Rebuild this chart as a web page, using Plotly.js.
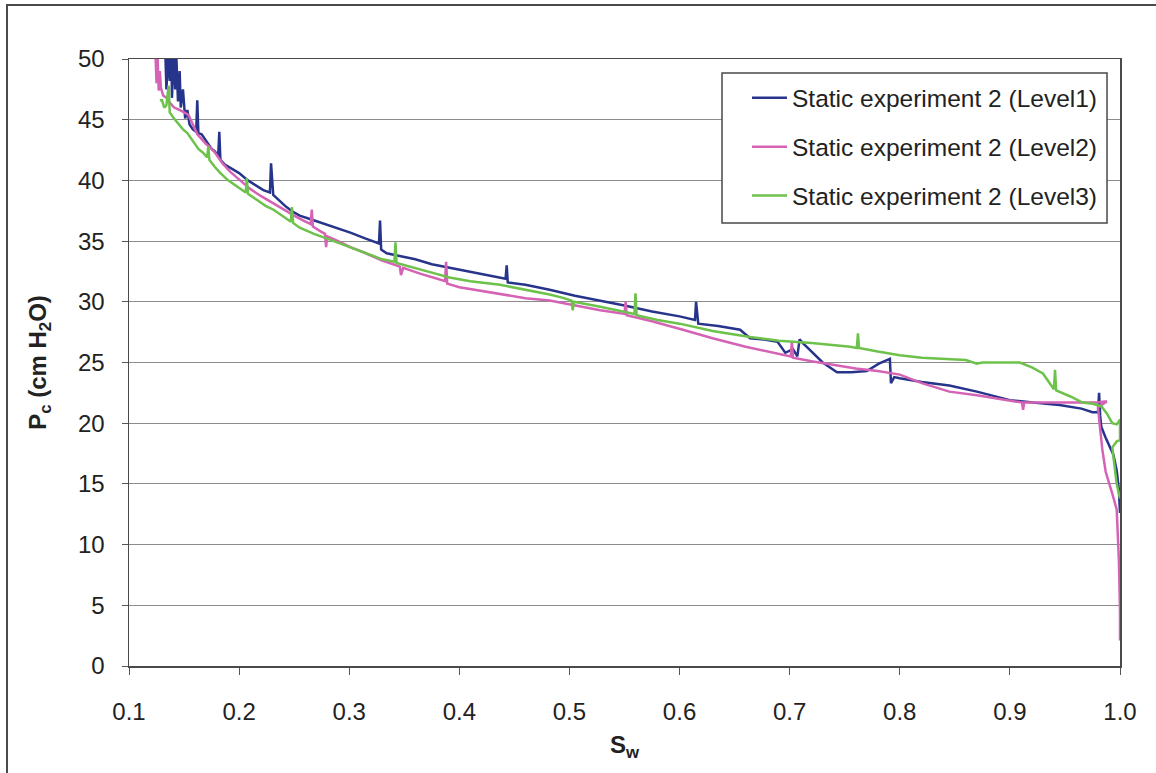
<!DOCTYPE html>
<html>
<head>
<meta charset="utf-8">
<script src="https://cdn.plot.ly/plotly-3.0.1.min.js"></script>
<style>
  html, body { margin: 0; padding: 0; background: #ffffff; }
  #chart { width: 1156px; height: 773px; }
</style>
</head>
<body>
<div id="chart"></div>
<script>
// Capillary pressure vs. water saturation, static experiment 2, three measurement levels

const seriesNames = [
  "Static experiment 2 (Level1)",
  "Static experiment 2 (Level2)",
  "Static experiment 2 (Level3)"
];

// Level 1
const swLevel1 = [
  0.133, 0.134, 0.1355, 0.137, 0.1385, 0.139, 0.1405, 0.142, 0.143, 0.1445,
  0.146, 0.147, 0.149, 0.151, 0.153, 0.155, 0.158, 0.161, 0.162, 0.163,
  0.166, 0.169, 0.172, 0.175, 0.178, 0.181, 0.182, 0.183, 0.187, 0.193,
  0.200, 0.208, 0.215, 0.222, 0.228, 0.229, 0.231, 0.237, 0.243, 0.249,
  0.255, 0.265, 0.278, 0.290, 0.301, 0.315, 0.327, 0.328, 0.329, 0.334,
  0.345, 0.360, 0.375, 0.391, 0.410, 0.425, 0.442, 0.443, 0.444, 0.460,
  0.482, 0.505, 0.528, 0.550, 0.575, 0.600, 0.614, 0.615, 0.617, 0.635,
  0.655, 0.664, 0.677, 0.689, 0.696, 0.703, 0.707, 0.709, 0.712, 0.720,
  0.730, 0.743, 0.756, 0.770, 0.781, 0.791, 0.792, 0.795, 0.800, 0.820,
  0.845, 0.870, 0.900, 0.921, 0.945, 0.965, 0.975, 0.980, 0.981, 0.982,
  0.983, 0.987, 0.991, 0.994, 0.997, 0.999, 1.000
];
const pcLevel1 = [
  50.5, 47.5, 50.5, 48.2, 50.5, 46.8, 50.5, 47.5, 50.2, 46.5,
  49.0, 46.0, 47.5, 45.1, 45.8, 44.6, 44.2, 44.0, 46.6, 43.9,
  43.8, 43.4, 43.1, 42.6, 42.4, 42.0, 44.0, 41.7, 41.3, 41.0,
  40.6, 40.0, 39.6, 39.2, 39.0, 41.4, 38.8, 38.3, 37.8, 37.4,
  37.1, 36.8, 36.4, 36.0, 35.7, 35.2, 34.8, 36.7, 34.3, 34.0,
  33.8, 33.5, 33.1, 32.8, 32.5, 32.2, 31.9, 33.0, 31.6, 31.4,
  31.0, 30.5, 30.1, 29.7, 29.2, 28.8, 28.5, 30.0, 28.2, 28.0,
  27.7, 27.0, 26.9, 26.7, 25.8, 26.1, 25.5, 26.9, 26.6, 25.9,
  25.0, 24.2, 24.2, 24.3, 24.9, 25.3, 23.3, 23.8, 23.7, 23.4,
  23.1, 22.6, 21.9, 21.7, 21.5, 21.2, 20.9, 20.9, 22.5, 20.6,
  19.7, 18.8, 18.0, 17.4, 16.1, 14.5, 12.6
];

// Level 2
const swLevel2 = [
  0.124, 0.125, 0.126, 0.127, 0.128, 0.129, 0.131, 0.134, 0.137, 0.141,
  0.146, 0.150, 0.154, 0.158, 0.162, 0.164, 0.170, 0.174, 0.178, 0.185,
  0.192, 0.201, 0.210, 0.220, 0.231, 0.240, 0.250, 0.258, 0.265, 0.266,
  0.267, 0.274, 0.278, 0.279, 0.280, 0.290, 0.301, 0.315, 0.330, 0.346,
  0.347, 0.349, 0.365, 0.380, 0.387, 0.388, 0.389, 0.400, 0.420, 0.437,
  0.460, 0.482, 0.505, 0.528, 0.550, 0.551, 0.552, 0.575, 0.603, 0.630,
  0.660, 0.680, 0.694, 0.701, 0.702, 0.703, 0.720, 0.739, 0.760, 0.780,
  0.800, 0.820, 0.845, 0.870, 0.895, 0.911, 0.912, 0.913, 0.945, 0.979,
  0.988, 0.980, 0.982, 0.984, 0.987, 0.990, 0.993, 0.997, 0.999, 1.000,
  1.000
];
const pcLevel2 = [
  50.5, 48.0, 50.0, 47.4, 49.0, 47.6, 47.0, 46.8, 46.4, 46.0,
  45.8, 45.6, 45.4, 44.6, 43.8, 43.6, 43.0, 42.7, 42.3, 41.4,
  40.7, 40.0, 39.3, 38.7, 38.1, 37.6, 37.1, 36.7, 36.4, 37.6,
  36.2, 35.8, 35.6, 34.5, 35.4, 35.0, 34.5, 34.0, 33.4, 32.9,
  32.2, 32.8, 32.3, 31.9, 31.7, 33.3, 31.5, 31.2, 30.9, 30.6,
  30.3, 30.1, 29.7, 29.3, 29.0, 30.0, 28.9, 28.4, 27.7, 27.0,
  26.3, 25.9, 25.6, 25.5, 26.7, 25.4, 25.1, 24.8, 24.5, 24.3,
  24.0, 23.3, 22.6, 22.3, 21.9, 21.7, 21.1, 21.7, 21.7, 21.7,
  21.8, 21.3, 19.5, 17.8, 16.0, 15.0, 14.2, 12.9, 8.7, 4.5,
  2.1
];

// Level 3
const swLevel3 = [
  0.128, 0.130, 0.132, 0.134, 0.136, 0.137, 0.140, 0.145, 0.149, 0.153,
  0.158, 0.163, 0.167, 0.171, 0.172, 0.173, 0.178, 0.183, 0.190, 0.198,
  0.206, 0.207, 0.208, 0.216, 0.224, 0.231, 0.240, 0.247, 0.248, 0.249,
  0.255, 0.268, 0.283, 0.301, 0.315, 0.330, 0.341, 0.342, 0.343, 0.360,
  0.375, 0.391, 0.410, 0.437, 0.460, 0.482, 0.495, 0.502, 0.503, 0.504,
  0.528, 0.550, 0.559, 0.560, 0.561, 0.580, 0.600, 0.630, 0.664, 0.690,
  0.720, 0.755, 0.761, 0.762, 0.763, 0.780, 0.800, 0.820, 0.845, 0.860,
  0.870, 0.875, 0.909, 0.920, 0.930, 0.937, 0.940, 0.941, 0.942, 0.955,
  0.966, 0.975, 0.983, 0.988, 0.993, 0.997, 1.000, 1.000, 0.997, 0.993,
  0.995, 0.997, 0.999, 1.000
];
const pcLevel3 = [
  46.6, 46.6, 46.0, 46.2, 47.8, 45.6, 45.2, 44.6, 44.2, 43.9,
  43.2, 42.6, 42.3, 41.9, 42.8, 41.7, 41.1, 40.6, 40.0, 39.5,
  39.0, 40.2, 38.9, 38.4, 37.9, 37.6, 37.0, 36.6, 37.8, 36.5,
  36.1, 35.6, 35.1, 34.5, 34.0, 33.5, 33.3, 34.9, 33.2, 32.8,
  32.4, 32.0, 31.7, 31.4, 31.0, 30.6, 30.3, 30.1, 29.3, 30.0,
  29.6, 29.2, 29.0, 30.7, 28.9, 28.5, 28.2, 27.6, 27.1, 26.8,
  26.6, 26.3, 26.2, 27.4, 26.2, 25.9, 25.6, 25.4, 25.3, 25.2,
  24.9, 25.0, 25.0, 24.6, 24.1, 23.2, 22.8, 24.4, 22.7, 22.2,
  21.7, 21.6, 21.4, 20.8, 20.0, 19.9, 20.3, 18.6, 18.5, 18.0,
  16.5, 15.0, 14.2, 13.8
];

const xTickVals = [0.1, 0.2, 0.3, 0.4, 0.5, 0.6, 0.7, 0.8, 0.9, 1.0];
const xTickText = ["0.1", "0.2", "0.3", "0.4", "0.5", "0.6", "0.7", "0.8", "0.9", "1.0"];
const yTickVals = [0, 5, 10, 15, 20, 25, 30, 35, 40, 45, 50];

const colors = ["#27348B", "#D462B5", "#6CC24A"];
const fontFamily = "'Liberation Sans', Arial, sans-serif";

function makeTrace(x, y, i) {
  return {
    type: "scatter",
    mode: "lines",
    x: x,
    y: y,
    name: seriesNames[i],
    legendgroup: "g" + i,
    line: { color: colors[i], width: 2.5 },
    hoverinfo: "x+y+name"
  };
}

const data = [
  makeTrace(swLevel1, pcLevel1, 0),
  makeTrace(swLevel2, pcLevel2, 1),
  makeTrace(swLevel3, pcLevel3, 2)
];

const layout = {
  width: 1156,
  height: 773,
  margin: { l: 129, r: 36, t: 59, b: 107 },
  paper_bgcolor: "#ffffff",
  plot_bgcolor: "#ffffff",
  font: { family: fontFamily, size: 24, color: "#222222" },
  showlegend: true,
  legend: {
    x: 0.6236,
    xanchor: "left",
    y: 0.973,
    yanchor: "top",
    bgcolor: "rgba(0,0,0,0)",
    borderwidth: 0,
    tracegroupgap: 14,
    itemwidth: 35,
    font: { family: fontFamily, size: 24.5, color: "#222222" }
  },
  xaxis: {
    range: [0.1, 1.0],
    tickmode: "array",
    tickvals: xTickVals,
    ticktext: xTickText,
    ticks: "outside",
    ticklen: 7,
    tickwidth: 1,
    tickcolor: "#555555",
    ticklabelstandoff: 17,
    showgrid: false,
    zeroline: false,
    showline: true,
    mirror: true,
    linecolor: "#4a4a4a",
    linewidth: 1.5,
    tickfont: { family: fontFamily, size: 24, color: "#222222" },
    title: {
      text: "<b>S<sub>w</sub></b>",
      font: { family: fontFamily, size: 24, color: "#222222" },
      standoff: 12
    }
  },
  yaxis: {
    range: [0, 50],
    tickmode: "array",
    tickvals: yTickVals,
    ticks: "outside",
    ticklen: 6,
    tickwidth: 1,
    tickcolor: "#555555",
    ticklabelstandoff: 12,
    showgrid: true,
    gridcolor: "#8c8c8c",
    gridwidth: 1,
    zeroline: false,
    showline: true,
    mirror: true,
    linecolor: "#4a4a4a",
    linewidth: 1.5,
    tickfont: { family: fontFamily, size: 24, color: "#222222" },
    title: {
      text: "<b>P<sub>c</sub> (cm H<sub>2</sub>O)</b>",
      font: { family: fontFamily, size: 24, color: "#222222" },
      standoff: 24
    }
  },
  shapes: [
    // legend frame
    {
      type: "rect", xref: "paper", yref: "paper",
      x0: 0.5984, x1: 0.9869, y0: 0.7298, y1: 0.9769,
      line: { color: "#4a4a4a", width: 1.5 },
      fillcolor: "#ffffff",
      layer: "above"
    },
    // outer chart frame
    {
      type: "rect", xref: "paper", yref: "paper",
      x0: -0.1231, x1: 1.0505, y0: -0.2043, y1: 1.089,
      line: { color: "#4a4a4a", width: 2 },
      fillcolor: "rgba(0,0,0,0)",
      layer: "below"
    }
  ]
};

Plotly.newPlot("chart", data, layout, { displayModeBar: false, staticPlot: true });
</script>
</body>
</html>
